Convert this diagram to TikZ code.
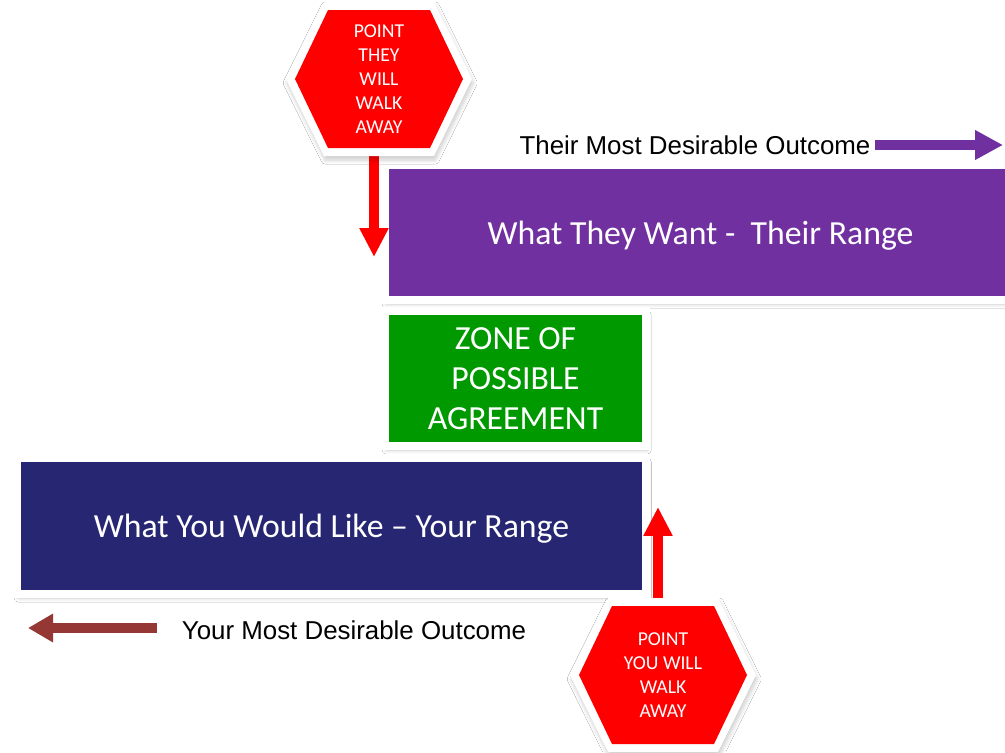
\documentclass[tikz,border=0pt]{standalone}
\usepackage{fontspec}
\setmainfont{Carlito}
\newfontfamily\arialfont{Liberation Sans}
\usetikzlibrary{calc, positioning, arrows.meta, shadows.blur}
\definecolor{theircolor}{HTML}{7030A0}
\definecolor{yourcolor}{HTML}{262672}
\definecolor{zopacolor}{HTML}{009900}
\definecolor{walkred}{HTML}{FF0000}
\definecolor{yourarrow}{HTML}{953735}

\tikzset{
  softshadow/.style={blur shadow={shadow xshift=0.03cm, shadow yshift=-0.1cm,
      shadow blur radius=0.1cm, shadow blur steps=6, shadow opacity=20}},
  rangebox/.style={draw=white, line width=0.2cm, inner sep=0pt, text=white,
      align=center, font=\fontsize{24}{28.4}\selectfont, softshadow},
  walktext/.style={inner sep=0pt, minimum width=4.2cm, minimum height=3.45cm,
      text=white, align=center, font=\fontsize{14}{17}\selectfont},
  walkarrow/.style={draw=walkred, line width=0.24cm,
      -{Triangle[length=0.72cm, width=0.68cm]}},
  outcome/.style={font=\arialfont\fontsize{18.4}{21}\selectfont},
}

\newcommand{\walkhex}[4]{%
  % #1=x, #2=y, #3=node name, #4=text
  \begin{scope}[shift={(#1,#2)}]
    % white rim
    \fill[white, softshadow] (-55,-77) -- (55,-77) -- (93,0) -- (55,77)
      -- (-55,77) -- (-93,0) -- cycle;
    % red sign
    \fill[walkred] (-51,-69) -- (51,-69) -- (84,0) -- (51,69)
      -- (-51,69) -- (-84,0) -- cycle;
  \end{scope}
  \node[walktext] (#3) at (#1,#2) {#4};
}

\begin{document}
\begin{tikzpicture}[x=0.025cm, y=-0.025cm]
\useasboundingbox (0,0) rectangle (1005,752);
\clip (0,0) rectangle (1005,752);
\fill[white] (0,0) rectangle (1005,752);

% The three ranges
\node[rangebox, fill=theircolor, minimum width=15.775cm, minimum height=3.375cm,
  text depth=0pt] (theirrange) at (700.5,232.5) {What They Want -~ Their Range};
\node[rangebox, fill=zopacolor, minimum width=6.525cm, minimum height=3.375cm]
  (zopa) at (515.5,378.5) {ZONE OF\\POSSIBLE\\AGREEMENT};
\node[rangebox, fill=yourcolor, minimum width=15.725cm, minimum height=3.4cm,
  text depth=0pt] (yourrange) at (331.5,526) {What You Would Like -- Your Range};

% Outcome labels
\node[outcome] (theirbest) at (695,145) {Their Most Desirable Outcome};
\coordinate (theirtip) at (1003,145);
\draw[draw=theircolor, line width=0.25cm, -{Triangle[length=0.7cm, width=0.7cm]}]
  (theirbest.east) -- (theirtip);

\node[outcome] (yourbest) at (354,630) {Your Most Desirable Outcome};
\coordinate (yourtip) at (28,628);
\draw[draw=yourarrow, line width=0.25cm, -{Triangle[length=0.63cm, width=0.68cm]}]
  ([xshift=-0.5cm]yourbest.west |- yourtip) -- (yourtip);

% Walk-away arrows
\coordinate (theirstop) at (374,257);
\coordinate (yourstop) at (658,507);
\draw[walkarrow] (374,150) -- (theirstop);
\draw[walkarrow] (658,606) -- (yourstop);

% Walk-away signs
\walkhex{379}{79}{theirwalk}{POINT\\THEY\\WILL\\WALK\\AWAY}
\walkhex{663}{675}{yourwalk}{POINT\\YOU WILL\\WALK\\AWAY}

\end{tikzpicture}
\end{document}
